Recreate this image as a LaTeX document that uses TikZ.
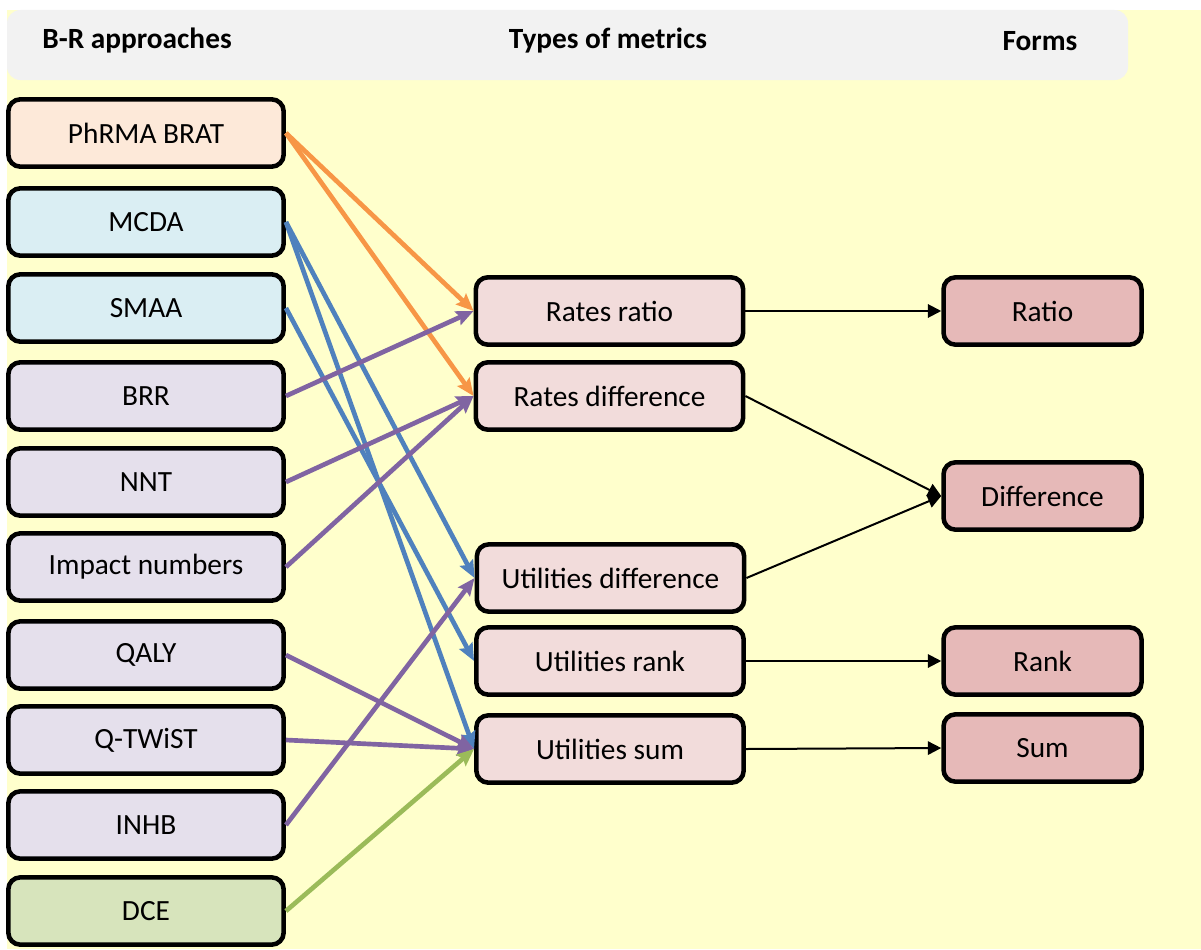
\documentclass[tikz,border=0pt]{standalone}
\usepackage{fontspec}
\setmainfont{Carlito}
\usetikzlibrary{arrows.meta}
\definecolor{bgY}{HTML}{FFFFCC}
\definecolor{hdrG}{HTML}{F2F2F2}
\definecolor{cOr}{HTML}{F79646}
\definecolor{cBl}{HTML}{4F81BD}
\definecolor{cPu}{HTML}{8064A2}
\definecolor{cGr}{HTML}{9BBB59}
\definecolor{fPh}{HTML}{FDE9D9}
\definecolor{fBl}{HTML}{DAEEF3}
\definecolor{fPu}{HTML}{E5E0EC}
\definecolor{fGr}{HTML}{D7E4BC}
\definecolor{fMid}{HTML}{F2DCDB}
\definecolor{fRt}{HTML}{E6B9B8}
\tikzset{
  box/.style={draw=black, line width=3.4pt, rounded corners=9pt, minimum height=50.5pt, inner sep=0pt, font=\fontsize{22}{26}\selectfont},
  lbox/.style={box, minimum width=206.5pt},
  mbox/.style={box, minimum width=200.5pt, fill=fMid},
  rbox/.style={box, minimum width=148.5pt, fill=fRt},
  hdr/.style={font=\fontsize{22}{26}\selectfont\bfseries},
  carr/.style={line width=3.5pt, -{Stealth[length=13pt,width=11pt,inset=2pt]}},
  karr/.style={line width=1.5pt, -{Triangle[length=10pt,width=10pt]}}
}
\begin{document}
\begin{tikzpicture}[x=0.75pt,y=-0.75pt]
\useasboundingbox (0,0) rectangle (1201,949);
\fill[bgY] (7,10) rectangle (1201,949);
\fill[hdrG, rounded corners=10pt] (7,10) rectangle (1128,80);
\node[hdr] (h1) at (137,41) {B-R approaches};
\node[hdr] (h2) at (608,41) {Types of metrics};
\node[hdr] (h3) at (1040,41) {Forms};
% left
\node[lbox, fill=fPh] (ph) at (146,133) {PhRMA BRAT};
\node[lbox, fill=fBl] (mc) at (146,222) {MCDA};
\node[lbox, fill=fBl] (sm) at (146,308) {SMAA};
\node[lbox, fill=fPu] (br) at (146,396) {BRR};
\node[lbox, fill=fPu] (nn) at (146,482) {NNT};
\node[lbox, fill=fPu] (im) at (146,567) {Impact numbers};
\node[lbox, fill=fPu] (qa) at (146,655) {QALY};
\node[lbox, fill=fPu] (qt) at (146,740) {Q-TWiST};
\node[lbox, fill=fPu] (in) at (146,825) {INHB};
\node[lbox, fill=fGr] (dc) at (146,911) {DCE};
% middle
\node[mbox] (rr) at (609.5,311) {Rates ratio};
\node[mbox] (rd) at (609.5,396) {Rates difference};
\node[mbox] (ud) at (610.5,578) {Utilities difference};
\node[mbox] (ur) at (610,661) {Utilities rank};
\node[mbox] (us) at (610,749) {Utilities sum};
% right
\node[rbox] (ra) at (1042.5,311) {Ratio};
\node[rbox] (di) at (1042.5,496) {Difference};
\node[rbox] (rk) at (1042.5,661) {Rank};
\node[rbox] (su) at (1042.5,748) {Sum};
% coloured connectors
\draw[carr, cOr] (ph.east) -- (rr.west);
\draw[carr, cOr] (ph.east) -- (rd.west);
\draw[carr, cBl] (mc.east) -- (ud.west);
\draw[carr, cBl] (mc.east) -- (us.west);
\draw[carr, cBl] (sm.east) -- (ur.west);
\draw[carr, cPu] (br.east) -- (rr.west);
\draw[carr, cPu] (nn.east) -- (rd.west);
\draw[carr, cPu] (im.east) -- (rd.west);
\draw[carr, cPu] (qa.east) -- (us.west);
\draw[carr, cPu] (qt.east) -- (us.west);
\draw[carr, cPu] (in.east) -- (ud.west);
\draw[carr, cGr] (dc.east) -- (us.west);
% black connectors
\draw[karr] (rr.east) -- (ra.west);
\draw[karr] (rd.east) -- (di.west);
\draw[karr] (ud.east) -- (di.west);
\draw[karr] (ur.east) -- (rk.west);
\draw[karr] (us.east) -- (su.west);
\end{tikzpicture}
\end{document}
